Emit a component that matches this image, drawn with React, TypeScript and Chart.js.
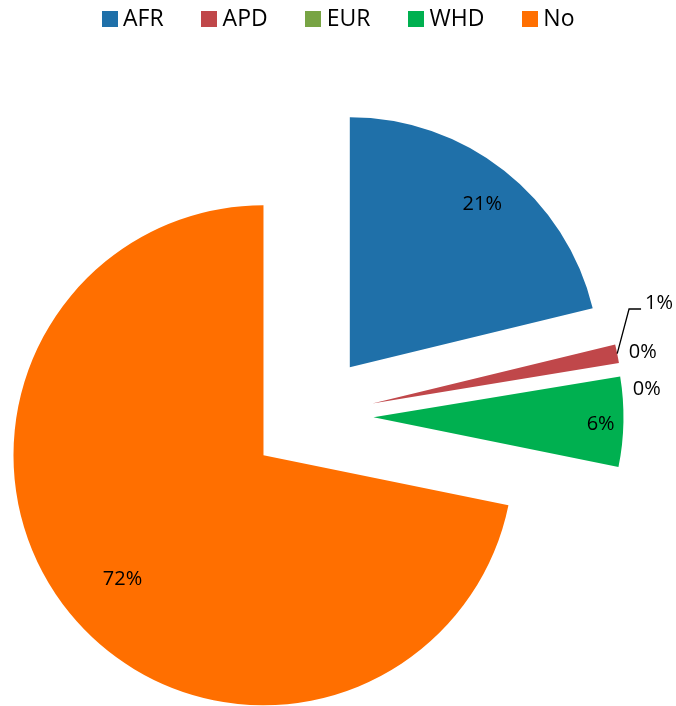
import React, { useEffect, useRef } from 'react';
import { Chart, registerables } from 'chart.js';

Chart.register(...registerables);

// ---- data ----
const CATEGORIES = ['AFR', 'APD', 'EUR', 'MCD', 'WHD', 'No'];
const VALUES = [21.2, 1.2, 0, 0, 5.8, 71.8];
const COLORS = ['#1F70A9', '#C0474A', '#78A444', '#4F81BD', '#00B050', '#FF6F00'];
const LEGEND_HIDDEN = ['MCD'];

// ---- label placement (radius fraction, angle nudge in degrees) ----
const LABEL_PLACEMENT = [
  { r: 0.844, a: 0.55, leader: false },
  { r: 1.215, a: -6.64, leader: true },
  { r: 1.102, a: -1.74, leader: false },
  { r: 1.098, a: 4.5, leader: false },
  { r: 0.909, a: 0.37, leader: false },
  { r: 0.747, a: -1.31, leader: false },
];

const EXPLODE = 62;
const LABEL_FONT_SIZE = 20;
const FONT_FAMILY = '"Open Sans", sans-serif';

const explodePlugin = {
  id: 'explode',
  beforeDatasetsDraw(chart: any, _args: any, opts: any) {
    const d = opts.distance || 0;
    const { left, right, top, bottom } = chart.chartArea;
    const cx = (left + right) / 2;
    const cy = (top + bottom) / 2;
    chart.getDatasetMeta(0).data.forEach((el: any) => {
      const mid = (el.startAngle + el.endAngle) / 2;
      el.x = cx + d * Math.cos(mid);
      el.y = cy + d * Math.sin(mid);
    });
  },
};

const sliceLabelsPlugin = {
  id: 'sliceLabels',
  afterDatasetsDraw(chart: any, _args: any, opts: any) {
    const ctx = chart.ctx as CanvasRenderingContext2D;
    const meta = chart.getDatasetMeta(0);
    const total = VALUES.reduce((a, b) => a + b, 0);
    const { left, right, top, bottom } = chart.chartArea;
    const cx = (left + right) / 2;
    const cy = (top + bottom) / 2;
    const explode = opts.explode || 0;
    const size = opts.size;
    ctx.save();
    ctx.font = `${size}px ${opts.family}`;
    ctx.fillStyle = '#000';
    ctx.strokeStyle = '#000';
    ctx.lineWidth = 1.3;
    ctx.textAlign = 'center';
    ctx.textBaseline = 'alphabetic';
    meta.data.forEach((el: any, i: number) => {
      const p = LABEL_PLACEMENT[i];
      if (!p) return;
      const mid = (el.startAngle + el.endAngle) / 2;
      const ang = mid + (p.a * Math.PI) / 180;
      const dist = explode + p.r * el.outerRadius;
      const x = cx + dist * Math.cos(ang);
      const y = cy + dist * Math.sin(ang);
      const text = Math.round((VALUES[i] / total) * 100) + '%';
      ctx.fillText(text, x, y + size * 0.357);
      if (p.leader) {
        const w = ctx.measureText(text).width;
        const er = explode + el.outerRadius;
        const ex = cx + er * Math.cos(mid);
        const ey = cy + er * Math.sin(mid);
        const ly = y + 7;
        ctx.beginPath();
        ctx.moveTo(ex, ey);
        ctx.lineTo(x - w / 2 - 16, ly);
        ctx.lineTo(x - w / 2 - 4, ly);
        ctx.stroke();
      }
    });
    ctx.restore();
  },
};

export default function App() {
  const canvasRef = useRef<HTMLCanvasElement | null>(null);

  useEffect(() => {
    if (!canvasRef.current) return;
    const chart = new Chart(canvasRef.current, {
      type: 'pie',
      data: {
        labels: CATEGORIES,
        datasets: [
          {
            data: VALUES,
            backgroundColor: COLORS,
            borderWidth: 0,
          },
        ],
      },
      options: {
        responsive: false,
        animation: false,
        events: [],
        radius: 250,
        layout: { padding: { left: 0, right: 53, top: 126, bottom: 0 } },
        plugins: {
          legend: { display: false },
          tooltip: { enabled: false },
          explode: { distance: EXPLODE },
          sliceLabels: { explode: EXPLODE, size: LABEL_FONT_SIZE, family: FONT_FAMILY },
        } as any,
      } as any,
      plugins: [explodePlugin, sliceLabelsPlugin],
    });
    return () => chart.destroy();
  }, []);

  const legendItems = CATEGORIES.map((c, i) => ({ c, color: COLORS[i] })).filter(
    (it) => !LEGEND_HIDDEN.includes(it.c)
  );

  return (
    <div style={{ position: 'absolute', left: 0, top: 0, width: 676, height: 706, background: '#fff' }}>
      <canvas ref={canvasRef} width={676} height={706} style={{ display: 'block' }} />
      <div
        style={{
          position: 'absolute',
          left: 0,
          top: 6,
          width: 676,
          display: 'flex',
          justifyContent: 'center',
          columnGap: '37.5px',
          fontFamily: FONT_FAMILY,
          fontSize: 23,
          lineHeight: '23px',
          color: '#000',
        }}
      >
        {legendItems.map((it) => (
          <div key={it.c} style={{ display: 'flex', alignItems: 'center' }}>
            <span
              style={{
                display: 'inline-block',
                width: 16,
                height: 16,
                background: it.color,
                marginRight: 5.5,
                position: 'relative',
                top: 1,
              }}
            />
            <span>{it.c}</span>
          </div>
        ))}
      </div>
    </div>
  );
}
